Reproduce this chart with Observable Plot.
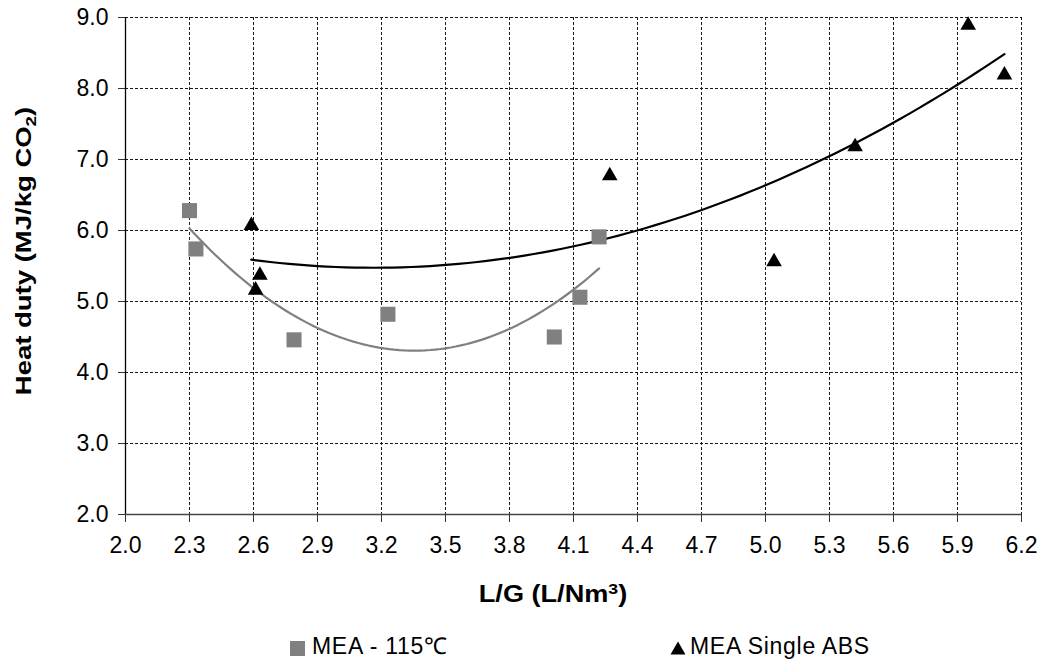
<!DOCTYPE html>
<html>
<head>
<meta charset="utf-8">
<script src="https://cdn.jsdelivr.net/npm/d3@7"></script>
<script src="https://cdn.jsdelivr.net/npm/@observablehq/plot@0.6"></script>
<style>
  body { margin: 0; background: #fff; font-family: "Liberation Sans", Arial, sans-serif; }
  #chart svg { display: block; }
  #legend { position: relative; width: 1044px; height: 40px; font-size: 23px; color: #000; }
  .item { position: absolute; top: 10px; line-height: 23px; white-space: nowrap; letter-spacing: 0.7px; }
  .swatch { position: absolute; top: 16px; }
</style>
</head>
<body>
<div id="chart"></div>
<div id="legend"></div>
<script>
// Heat duty vs. liquid/gas ratio for two MEA configurations
const seriesNames = ["MEA - 115\u2103", "MEA Single ABS"];

const mea115LG   = [2.30, 2.33, 2.79, 3.23, 4.01, 4.13, 4.22];
const mea115Duty = [6.28, 5.74, 4.46, 4.82, 4.50, 5.06, 5.91];

const singleAbsLG   = [2.59, 2.63, 2.61, 4.27, 5.04, 5.42, 5.95, 6.12];
const singleAbsDuty = [6.07, 5.37, 5.16, 6.77, 5.56, 7.18, 8.89, 8.19];

const xTicks = [2.0, 2.3, 2.6, 2.9, 3.2, 3.5, 3.8, 4.1, 4.4, 4.7, 5.0, 5.3, 5.6, 5.9, 6.2];
const yTicks = [2.0, 3.0, 4.0, 5.0, 6.0, 7.0, 8.0, 9.0];

const colors = { [seriesNames[0]]: "#808080", [seriesNames[1]]: "#000000" };

// Second-order polynomial least-squares trend line (as a spreadsheet trendline)
function quadFit(xs, ys) {
  const n = xs.length;
  let s = [0, 0, 0, 0, 0], t = [0, 0, 0];
  for (let i = 0; i < n; i++) {
    const x = xs[i], y = ys[i];
    for (let k = 0; k <= 4; k++) s[k] += x ** k;
    for (let k = 0; k <= 2; k++) t[k] += y * x ** k;
  }
  const A = [[s[0], s[1], s[2], t[0]], [s[1], s[2], s[3], t[1]], [s[2], s[3], s[4], t[2]]];
  for (let c = 0; c < 3; c++) {
    for (let r = c + 1; r < 3; r++) {
      const f = A[r][c] / A[c][c];
      for (let k = c; k < 4; k++) A[r][k] -= f * A[c][k];
    }
  }
  const b = [0, 0, 0];
  for (let r = 2; r >= 0; r--) {
    let v = A[r][3];
    for (let k = r + 1; k < 3; k++) v -= A[r][k] * b[k];
    b[r] = v / A[r][r];
  }
  return x => b[0] + b[1] * x + b[2] * x * x;
}

function trend(xs, ys, series) {
  const f = quadFit(xs, ys);
  const [lo, hi] = d3.extent(xs);
  return d3.range(0, 81).map(i => {
    const x = lo + (hi - lo) * i / 80;
    return { series, x, y: f(x) };
  });
}

const points = [
  ...mea115LG.map((x, i) => ({ series: seriesNames[0], x, y: mea115Duty[i] })),
  ...singleAbsLG.map((x, i) => ({ series: seriesNames[1], x, y: singleAbsDuty[i] }))
];
const trends = [
  ...trend(mea115LG, mea115Duty, seriesNames[0]),
  ...trend(singleAbsLG, singleAbsDuty, seriesNames[1])
];

const fontFamily = "'Liberation Sans', Arial, sans-serif";

const chart = Plot.plot({
  width: 1044,
  height: 625,
  marginLeft: 125,
  marginRight: 23,
  marginTop: 17,
  marginBottom: 111,
  style: { fontFamily, fontSize: "23px", color: "#000", background: "#fff" },
  x: { domain: [2.0, 6.2], ticks: xTicks, tickFormat: d3.format(".1f") },
  y: { domain: [2.0, 9.0], ticks: yTicks, tickFormat: d3.format(".1f") },
  marks: [
    // dashed grid
    Plot.ruleX(xTicks.slice(1), { stroke: "#1a1a1a", strokeDasharray: "3,2", strokeWidth: 1 }),
    Plot.ruleY(yTicks.slice(1), { stroke: "#1a1a1a", strokeDasharray: "3,2", strokeWidth: 1 }),
    // axes
    Plot.axisX({ ticks: xTicks, tickFormat: d3.format(".1f"), tickSize: 8, tickPadding: 14, label: null, stroke: "#333", fontSize: 23 }),
    Plot.axisY({ ticks: yTicks, tickFormat: d3.format(".1f"), tickSize: 7, tickPadding: 10, label: null, stroke: "#333", fontSize: 23 }),
    Plot.ruleX([2.0], { stroke: "#000", strokeWidth: 1.3 }),
    Plot.ruleY([2.0], { stroke: "#444", strokeWidth: 1.3 }),
    // trend lines
    Plot.line(trends, { x: "x", y: "y", z: "series", stroke: d => colors[d.series], strokeWidth: 2.2 }),
    // data markers
    Plot.dot(points.filter(d => d.series === seriesNames[0]), { x: "x", y: "y", symbol: "square", r: 8.5, fill: colors[seriesNames[0]], stroke: "none" }),
    Plot.dot(points.filter(d => d.series === seriesNames[1]), { x: "x", y: "y", symbol: "triangle", r: 5.8, fill: colors[seriesNames[1]], stroke: "none" })
  ]
});

document.getElementById("chart").appendChild(chart);

// Axis titles with sub/superscripts (wide-set bold lettering)
const svg = d3.select(chart);
const yTitle = svg.append("text")
  .attr("transform", "translate(31,251) rotate(-90) scale(1.25,1)")
  .attr("text-anchor", "middle")
  .attr("font-family", fontFamily)
  .attr("font-weight", "bold")
  .attr("font-size", 22)
  .attr("fill", "#000");
yTitle.append("tspan").text("Heat duty (MJ/kg CO");
yTitle.append("tspan").attr("font-size", 15).attr("dy", 5).text("2");
yTitle.append("tspan").attr("dy", -5).text(")");

const xTitle = svg.append("text")
  .attr("transform", "translate(553,602) scale(1.18,1)")
  .attr("text-anchor", "middle")
  .attr("font-family", fontFamily)
  .attr("font-weight", "bold")
  .attr("font-size", 23)
  .attr("fill", "#000");
xTitle.append("tspan").text("L/G (L/Nm");
xTitle.append("tspan").attr("font-size", 15).attr("dy", -8).text("3");
xTitle.append("tspan").attr("dy", 8).text(")");

// Legend below the chart
const legend = d3.select("#legend");
legend.append("div").attr("class", "swatch")
  .style("left", "290px").style("width", "15px").style("height", "15px")
  .style("background", colors[seriesNames[0]]);
legend.append("div").attr("class", "item").style("left", "312px").text(seriesNames[0]);
legend.append("svg").attr("class", "swatch")
  .style("left", "670px").attr("width", 16).attr("height", 14)
  .append("path").attr("d", "M8,0.5L15.5,13.5L0.5,13.5Z").attr("fill", colors[seriesNames[1]]);
legend.append("div").attr("class", "item").style("left", "690px").text(seriesNames[1]);
</script>
</body>
</html>
